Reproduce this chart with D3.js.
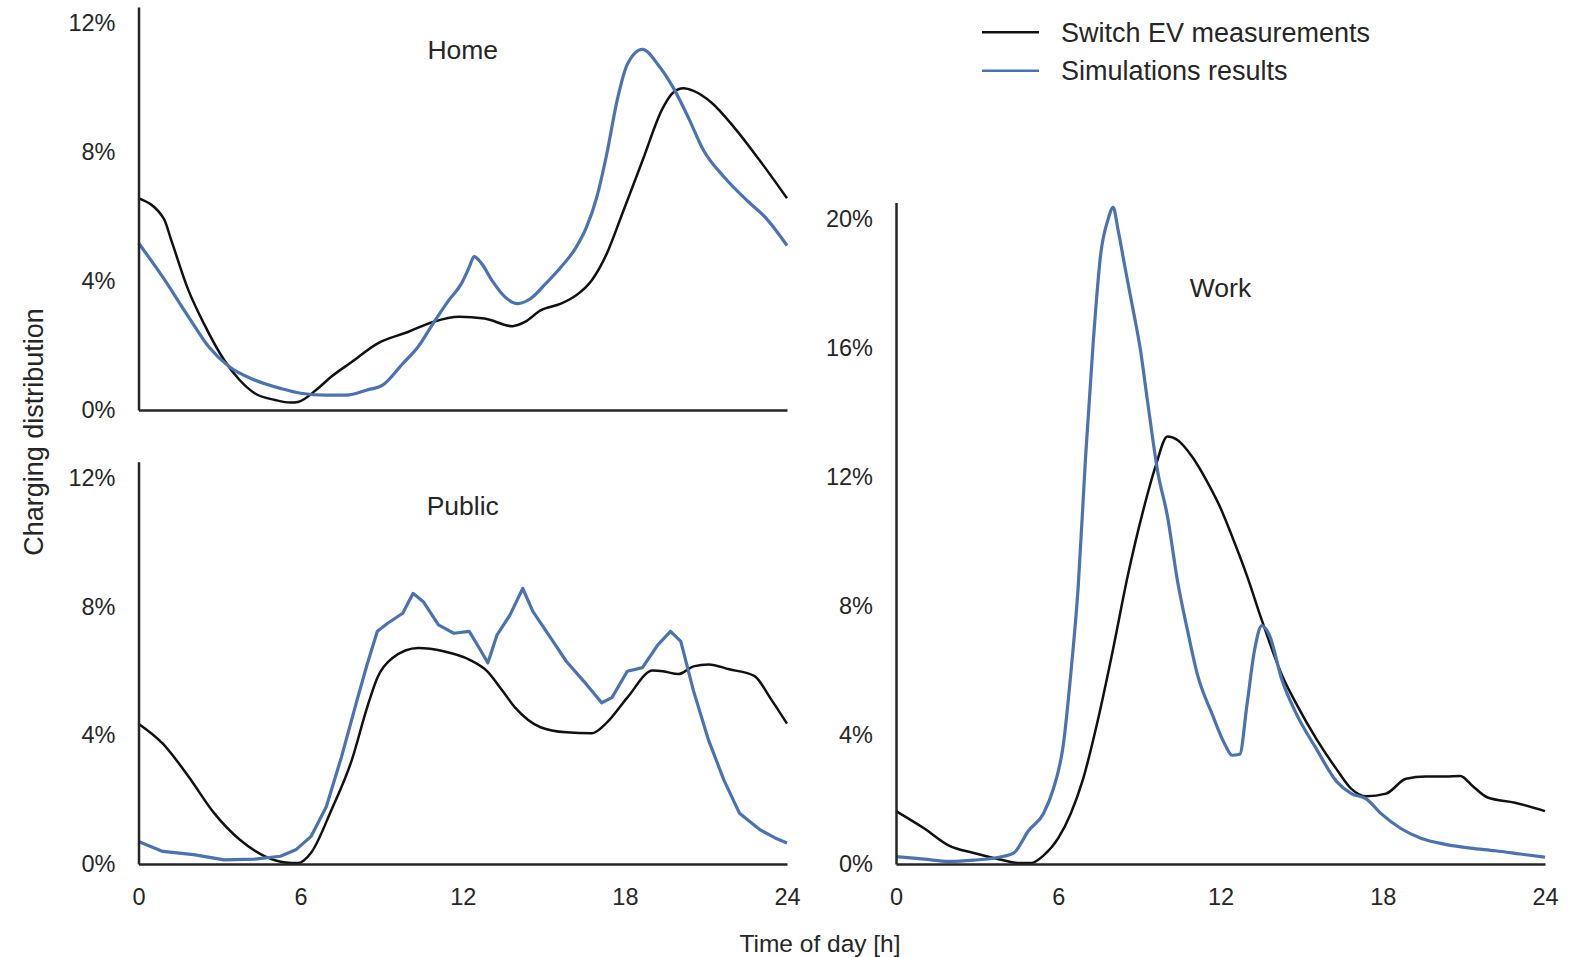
<!DOCTYPE html>
<html>
  <head>
    <meta charset="utf-8">
    <title>Charging distribution</title>
    <script src="https://cdn.jsdelivr.net/npm/d3@7"></script>
    <style>
      body {margin:0; background:#fff;}
      text {font-family:"Liberation Sans", Arial, sans-serif; fill:#262626;}
    </style>
  </head>
  <body>
  <script>
    // hours / percent values
    var homeMeasH = [0,0.94,1.2,1.85,2.42,3.17,3.74,4.3,5.06,5.63,5.9,6.57,7.13,7.89,8.84,9.97,10.9,11.86,12.8,13.84,14.3,14.88,15.63,16.2,16.77,17.33,17.9,18.65,19.41,19.79,20.17,20.54,21.2,22.05,23.0,24];
    var homeMeas  = [6.57,5.93,5.3,3.71,2.68,1.55,0.93,0.52,0.31,0.23,0.25,0.62,1.03,1.49,2.06,2.42,2.73,2.89,2.84,2.6,2.73,3.09,3.3,3.56,4.02,4.85,6.08,7.73,9.38,9.85,9.98,9.9,9.54,8.76,7.73,6.57];
    var homeSimH = [0,0.9,1.85,2.6,3.36,4.3,5.25,6.0,6.95,7.7,8.46,9.03,9.78,10.35,10.9,11.48,11.95,12.24,12.42,12.7,13.08,13.56,14.03,14.5,15.07,15.63,16.2,16.58,16.96,17.33,17.71,18.09,18.65,19.22,19.79,20.35,20.92,21.68,22.53,23.19,24];
    var homeSim  = [5.18,4.12,2.89,1.96,1.34,0.93,0.67,0.52,0.46,0.46,0.62,0.77,1.44,1.96,2.68,3.4,3.92,4.43,4.76,4.54,4.02,3.51,3.3,3.45,3.92,4.43,5.05,5.67,6.6,7.94,9.59,10.72,11.19,10.72,10.0,9.07,8.04,7.22,6.49,5.98,5.1];

    var publicMeasH = [0,0.9,1.85,2.8,3.74,4.68,5.44,5.91,6.38,7.14,7.89,8.46,8.84,9.4,10.35,11.29,12.24,12.9,13.47,13.94,14.88,15.83,16.77,17.34,18.09,19.03,19.41,19.98,20.54,21.1,21.86,22.8,23.37,24];
    var publicMeas  = [4.36,3.74,2.72,1.58,0.76,0.24,0.05,0.03,0.34,1.68,3.22,4.86,5.79,6.4,6.71,6.61,6.35,5.99,5.38,4.86,4.25,4.09,4.06,4.4,5.17,6.01,5.99,5.9,6.14,6.2,6.05,5.84,5.17,4.36];
    var publicSimH = [0,0.9,2.04,3.17,4.3,5.25,5.82,6.38,6.95,7.51,8.08,8.46,8.84,9.22,9.78,10.16,10.54,11.1,11.67,12.24,12.61,12.93,13.27,13.75,14.22,14.6,15.26,15.83,16.58,17.14,17.52,18.09,18.65,19.22,19.69,20.07,20.54,21.1,21.67,22.24,22.99,23.56,24];
    var publicSim  = [0.7,0.39,0.29,0.13,0.15,0.24,0.44,0.85,1.78,3.32,5.07,6.2,7.23,7.48,7.79,8.41,8.15,7.43,7.17,7.23,6.71,6.25,7.12,7.74,8.56,7.84,7.02,6.3,5.58,5.01,5.17,5.99,6.1,6.81,7.23,6.92,5.38,3.84,2.6,1.58,1.07,0.81,0.65];

    var workMeasH = [0,1.05,1.96,2.88,3.8,4.54,5.0,5.45,6.0,6.46,6.92,7.47,8.02,8.57,9.13,9.59,10.04,10.41,10.96,11.51,12.06,12.43,12.98,13.53,14.27,14.82,15.55,16.29,16.84,17.39,18.12,18.86,19.59,20.32,20.87,21.33,21.88,22.89,24];
    var workMeas  = [1.64,1.1,0.57,0.34,0.15,0.03,0.03,0.26,0.8,1.56,2.64,4.48,6.63,8.93,10.92,12.3,13.25,13.14,12.61,11.84,10.92,10.15,8.93,7.55,5.86,4.94,3.87,2.94,2.33,2.1,2.18,2.64,2.71,2.71,2.73,2.41,2.06,1.9,1.64];
    var workSimH = [0,1.05,1.96,2.88,3.8,4.35,4.9,5.45,5.82,6.19,6.46,6.74,7.01,7.29,7.57,7.84,8.03,8.21,8.48,8.76,9.03,9.31,9.68,10.04,10.41,10.78,11.15,11.7,12.16,12.43,12.71,12.98,13.26,13.53,13.81,14.27,14.82,15.55,16.29,16.84,17.39,17.94,18.67,19.41,20.32,21.24,22.16,23.08,24];
    var workSim  = [0.23,0.15,0.08,0.12,0.21,0.34,1.03,1.56,2.33,3.71,5.86,8.62,12.61,16.13,18.9,19.97,20.35,19.66,18.44,17.21,15.98,14.29,12.15,10.77,8.77,7.24,5.86,4.63,3.71,3.37,3.4,4.94,6.63,7.39,7.09,5.71,4.63,3.56,2.56,2.18,2.02,1.56,1.1,0.8,0.61,0.49,0.41,0.31,0.21];

    var hourTicks = [0, 6, 12, 18, 24];
    var smallTicks = [0, 4, 8, 12];
    var workTicks = [0, 4, 8, 12, 16, 20];
    var legendNames = ["Switch EV measurements", "Simulations results"];
    var black = "#111111", blue = "#4c72b0";

    var width = 1579, height = 957;
    var svg = d3.select("body").append("svg")
        .attr("width", width)
        .attr("height", height);

    var panels = [
      {name:"Home", x:[138.5, 787], y:[410, 7], top:12.5, yt:smallTicks, xt:[], ty:10.88,
       meas:[homeMeasH, homeMeas], sim:[homeSimH, homeSim], simCurve:d3.curveMonotoneX},
      {name:"Public", x:[138.5, 787], y:[864, 461.7], top:12.5, yt:smallTicks, xt:hourTicks, ty:10.83,
       meas:[publicMeasH, publicMeas], sim:[publicSimH, publicSim], simCurve:d3.curveLinear},
      {name:"Work", x:[896, 1545], y:[864, 202.5], top:20.5, yt:workTicks, xt:hourTicks, ty:17.57,
       meas:[workMeasH, workMeas], sim:[workSimH, workSim], simCurve:d3.curveMonotoneX}
    ];

    panels.forEach(function(p) {
      var x = d3.scaleLinear().domain([0, 24]).range(p.x);
      var y = d3.scaleLinear().domain([0, p.top]).range(p.y);
      var g = svg.append("g");

      var pts = function(a) { return a[0].map(function(h, i) { return [h, a[1][i]]; }); };

      var smooth = d3.line().x(function(d) { return x(d[0]); }).y(function(d) { return y(d[1]); })
          .curve(d3.curveMonotoneX);
      var simLine = d3.line().x(function(d) { return x(d[0]); }).y(function(d) { return y(d[1]); })
          .curve(p.simCurve);

      g.append("path").datum(pts(p.meas))
          .attr("d", smooth).attr("fill", "none")
          .attr("stroke", black).attr("stroke-width", 2.5);
      g.append("path").datum(pts(p.sim))
          .attr("d", simLine).attr("fill", "none")
          .attr("stroke", blue).attr("stroke-width", 3.2)
          .attr("stroke-linejoin", "round");

      // left spine + tick labels
      var ya = g.append("g")
          .attr("transform", "translate(" + p.x[0] + ",0)")
          .call(d3.axisLeft(y).tickValues(p.yt).tickSize(0).tickPadding(23)
              .tickFormat(function(d) { return d + "%"; }));
      // bottom spine
      var xa = g.append("g")
          .attr("transform", "translate(0," + p.y[0] + ")")
          .call(d3.axisBottom(x).tickValues(p.xt).tickSize(0).tickPadding(24)
              .tickFormat(d3.format("d")));

      [ya, xa].forEach(function(a) {
        a.select(".domain").attr("stroke", "#262626").attr("stroke-width", 2.5);
        a.selectAll("text").attr("font-size", 23.5).attr("fill", "#262626")
            .style("font-family", "'Liberation Sans', Arial, sans-serif");
      });

      g.append("text")
          .attr("x", (p.x[0] + p.x[1]) / 2)
          .attr("y", y(p.ty))
          .attr("text-anchor", "middle")
          .attr("font-size", 26.5)
          .text(p.name);
    });

    // axis labels
    svg.append("text")
        .attr("x", 820).attr("y", 951.5)
        .attr("text-anchor", "middle")
        .attr("font-size", 24.5)
        .text("Time of day [h]");
    svg.append("text")
        .attr("transform", "translate(43,432) rotate(-90)")
        .attr("text-anchor", "middle")
        .attr("font-size", 27)
        .text("Charging distribution");

    // legend
    var legend = svg.append("g").selectAll("g")
        .data(legendNames)
        .enter().append("g")
        .attr("transform", function(d, i) { return "translate(982," + (32.3 + i * 38.4) + ")"; });
    legend.append("line")
        .attr("x1", 0).attr("x2", 57)
        .attr("stroke", function(d, i) { return i === 0 ? black : blue; })
        .attr("stroke-width", 2.5);
    legend.append("text")
        .attr("x", 79).attr("y", 9.5)
        .attr("font-size", 27)
        .text(function(d) { return d; });
  </script>
  </body>
</html>
